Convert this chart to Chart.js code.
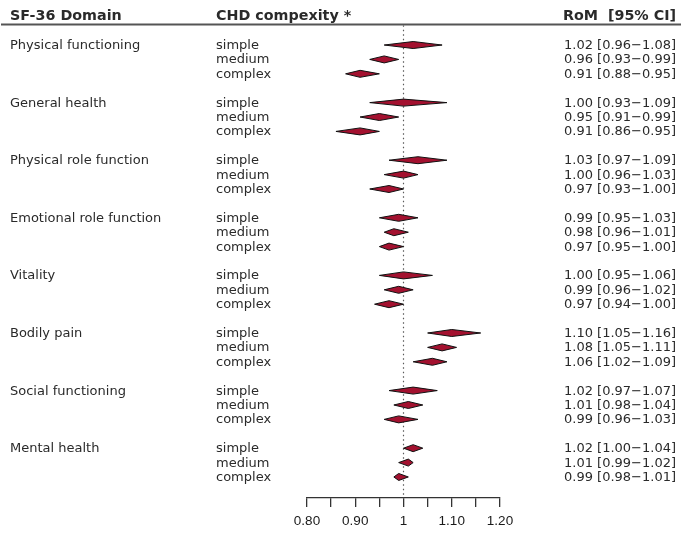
<!DOCTYPE html>
<html>
<head>
<meta charset="utf-8">
<script src="https://cdn.jsdelivr.net/npm/chart.js@4/dist/chart.umd.min.js"></script>
<style>
  html, body { margin: 0; padding: 0; background: #ffffff; }
  #wrap { width: 692px; height: 535px; position: relative; }
</style>
</head>
<body>
<div id="wrap"><canvas id="forest"></canvas></div>
<script>
// SF-36 domains and CHD complexity groups
const domains = ['Physical functioning', 'General health', 'Physical role function',
  'Emotional role function', 'Vitality', 'Bodily pain', 'Social functioning', 'Mental health'];
const levels = ['simple', 'medium', 'complex'];

// Ratio of means per domain (simple, medium, complex)
const rom = [
  [1.02, 0.96, 0.91],
  [1.00, 0.95, 0.91],
  [1.03, 1.00, 0.97],
  [0.99, 0.98, 0.97],
  [1.00, 0.99, 0.97],
  [1.10, 1.08, 1.06],
  [1.02, 1.01, 0.99],
  [1.02, 1.01, 0.99]
];
// Lower and upper 95% CI bounds
const lower = [
  [0.96, 0.93, 0.88],
  [0.93, 0.91, 0.86],
  [0.97, 0.96, 0.93],
  [0.95, 0.96, 0.95],
  [0.95, 0.96, 0.94],
  [1.05, 1.05, 1.02],
  [0.97, 0.98, 0.96],
  [1.00, 0.99, 0.98]
];
const upper = [
  [1.08, 0.99, 0.95],
  [1.09, 0.99, 0.95],
  [1.09, 1.03, 1.00],
  [1.03, 1.01, 1.00],
  [1.06, 1.02, 1.00],
  [1.16, 1.11, 1.09],
  [1.07, 1.04, 1.03],
  [1.04, 1.02, 1.01]
];

// Axis ticks and their labels
const tickValues = [0.80, 0.85, 0.90, 0.95, 1.00, 1.05, 1.10, 1.15, 1.20];
const tickLabels = ['0.80', '', '0.90', '', '1', '', '1.10', '', '1.20'];
const headers = ['SF-36 Domain', 'CHD compexity *', 'RoM  [95% CI]'];

const TEXT = '#2a2a2a';
const FONT = '"DejaVu Sans", Verdana, sans-serif';
const fmt = v => v.toFixed(2);

// one row per complexity level, a blank row after each domain
const rowOf = (d, l) => d * 4 + l;

// centre points, carried by the chart as a (hidden) scatter dataset
const centres = [];
domains.forEach((_, d) => levels.forEach((_, l) => centres.push({ x: rom[d][l], y: rowOf(d, l), d, l })));

const forestPlugin = {
  id: 'forest',
  afterDatasetsDraw(chart) {
    const { ctx, scales: { x, y } } = chart;
    ctx.save();
    // diamonds spanning the confidence interval
    centres.forEach(p => {
      const cy = y.getPixelForValue(p.y);
      const xl = x.getPixelForValue(lower[p.d][p.l]);
      const xm = x.getPixelForValue(rom[p.d][p.l]);
      const xh = x.getPixelForValue(upper[p.d][p.l]);
      const h = 3.5;
      ctx.beginPath();
      ctx.moveTo(xl, cy);
      ctx.lineTo(xm, cy - h);
      ctx.lineTo(xh, cy);
      ctx.lineTo(xm, cy + h);
      ctx.closePath();
      ctx.fillStyle = '#a3112f';
      ctx.fill();
      ctx.lineWidth = 1;
      ctx.strokeStyle = '#111111';
      ctx.stroke();
    });
    ctx.restore();
  },
  afterDraw(chart) {
    const { ctx, scales: { y } } = chart;
    ctx.save();
    ctx.fillStyle = TEXT;
    ctx.textBaseline = 'alphabetic';
    // header row
    ctx.font = 'bold 14.3px ' + FONT;
    ctx.textAlign = 'left';
    ctx.fillText(headers[0], 10, 20);
    ctx.fillText(headers[1], 216, 20);
    ctx.textAlign = 'right';
    ctx.fillText(headers[2], 676, 20);
    ctx.beginPath();
    ctx.moveTo(1, 24.5);
    ctx.lineTo(681, 24.5);
    ctx.lineWidth = 1.8;
    ctx.strokeStyle = '#555555';
    ctx.stroke();
    // row labels and values
    ctx.font = '13px ' + FONT;
    domains.forEach((name, d) => {
      ctx.textAlign = 'left';
      ctx.fillText(name, 10, y.getPixelForValue(rowOf(d, 0)) + 4);
      levels.forEach((lv, l) => {
        const by = y.getPixelForValue(rowOf(d, l)) + 4;
        ctx.textAlign = 'left';
        ctx.fillText(lv, 216, by);
        ctx.textAlign = 'right';
        ctx.fillText(fmt(rom[d][l]) + ' [' + fmt(lower[d][l]) + '\u2212' + fmt(upper[d][l]) + ']', 676, by);
      });
    });
    ctx.restore();
  }
};

new Chart(document.getElementById('forest'), {
  type: 'scatter',
  data: {
    datasets: [
      {
        // reference line at a ratio of 1
        type: 'line',
        data: [{ x: 1, y: -1.37 }, { x: 1, y: 31.46 }],
        borderColor: '#5a5a5a',
        borderWidth: 1.2,
        borderDash: [1.5, 3],
        pointRadius: 0,
        fill: false
      },
      {
        data: centres,
        pointRadius: 0,
        pointHoverRadius: 0
      }
    ]
  },
  options: {
    responsive: true,
    maintainAspectRatio: false,
    animation: false,
    events: [],
    layout: { padding: { left: 307, right: 192, top: 25.3, bottom: 0 } },
    plugins: { legend: { display: false }, tooltip: { enabled: false } },
    scales: {
      x: {
        type: 'linear',
        min: 0.80,
        max: 1.20,
        afterBuildTicks: s => { s.ticks = tickValues.map(v => ({ value: v })); },
        afterFit: s => { s.height = 37; },
        grid: { drawOnChartArea: false, drawTicks: true, tickLength: 9, color: '#333333', lineWidth: 1.3 },
        border: { display: true, color: '#333333', width: 1.3 },
        ticks: {
          autoSkip: false,
          maxRotation: 0,
          padding: 6,
          color: '#1a1a1a',
          font: { family: '"Liberation Sans", Arial, sans-serif', size: 13.5 },
          callback: (v, i) => tickLabels[i]
        }
      },
      y: {
        type: 'linear',
        reverse: true,
        min: -1.37,
        max: 31.46,
        display: false
      }
    }
  },
  plugins: [forestPlugin]
});
</script>
</body>
</html>
